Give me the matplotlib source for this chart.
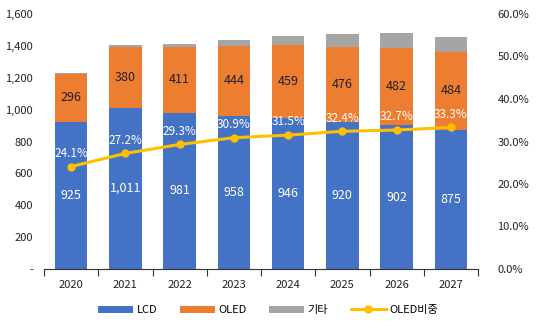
import matplotlib
matplotlib.use("Agg")
import matplotlib.pyplot as plt
from matplotlib.ticker import FuncFormatter, FixedLocator
import numpy as np

plt.rcParams['font.family'] = ['Noto Sans CJK KR', 'DejaVu Sans']

years = ['2020', '2021', '2022', '2023', '2024', '2025', '2026', '2027']
lcd = [925, 1011, 981, 958, 946, 920, 902, 875]
oled = [296, 380, 411, 444, 459, 476, 482, 484]
etc = [6, 14, 21, 35, 57, 80, 97, 96]
oled_share = [24.1, 27.2, 29.3, 30.9, 31.5, 32.4, 32.7, 33.3]

c_lcd = '#4472C4'
c_oled = '#ED7D31'
c_etc = '#A5A5A5'
c_line = '#FFC000'

fig = plt.figure(figsize=(5.36, 3.30), dpi=100)
ax = fig.add_axes([44/536, 1 - 269/330, (478-44)/536, (269-14)/330])
ax2 = ax.twinx()

x = np.arange(len(years))
w = 0.6
lcd_a = np.array(lcd)
oled_a = np.array(oled)
etc_a = np.array(etc)
ax.bar(x, lcd_a, w, color=c_lcd, label='LCD', zorder=2)
ax.bar(x, oled_a, w, bottom=lcd_a, color=c_oled, label='OLED', zorder=2)
ax.bar(x, etc_a, w, bottom=lcd_a + oled_a, color=c_etc, label='기타', zorder=2)

for i in range(len(years)):
    ax.text(x[i], lcd_a[i] / 2, f'{lcd_a[i]:,}', ha='center', va='center',
            color='white', fontsize=9, zorder=5)
    ax.text(x[i], lcd_a[i] + oled_a[i] / 2, f'{oled_a[i]:,}', ha='center',
            va='center', color='#222222', fontsize=9, zorder=5)

ax.set_xlim(-0.5, len(years) - 0.5)
ax.set_ylim(0, 1600)
ax.yaxis.set_major_locator(FixedLocator(np.arange(0, 1601, 200)))
ax.yaxis.set_major_formatter(FuncFormatter(lambda v, p: '-' if v == 0 else f'{int(v):,}'))
ax.set_xticks(x)
ax.set_xticklabels(years)
ax.xaxis.set_minor_locator(FixedLocator(np.arange(-0.5, len(years), 1.0)))
ax.tick_params(axis='x', which='major', length=0, pad=8, labelsize=8, colors='#222222')
ax.tick_params(axis='x', which='minor', length=5, width=0.8, color='#333333')
ax.tick_params(axis='y', length=0, labelsize=8, colors='#222222', pad=8)
for s in ['top', 'right', 'left']:
    ax.spines[s].set_visible(False)
ax.spines['bottom'].set_color('#333333')
ax.spines['bottom'].set_linewidth(0.8)

share = np.array(oled_share)
ax2.plot(x, share, color=c_line, lw=2.2, marker='o', ms=5, label='OLED비중', zorder=4)
for i in range(len(years)):
    ax2.annotate(f'{share[i]:.1f}%', (x[i], share[i]), xytext=(0, 9.5),
                 textcoords='offset points', ha='center', va='center',
                 color='white', fontsize=8.5, zorder=6)
ax2.set_ylim(0, 60)
ax2.yaxis.set_major_locator(FixedLocator(np.arange(0, 61, 10)))
ax2.yaxis.set_major_formatter(FuncFormatter(lambda v, p: f'{v:.1f}%'))
ax2.tick_params(axis='y', length=0, labelsize=8, colors='#222222', pad=14)
for s in ['top', 'right', 'left', 'bottom']:
    ax2.spines[s].set_visible(False)
ax.set_zorder(1)
ax2.set_zorder(2)
ax2.patch.set_visible(False)

h1, l1 = ax.get_legend_handles_labels()
h2, l2 = ax2.get_legend_handles_labels()
fig.legend(h1 + h2, l1 + l2, loc='center', bbox_to_anchor=(0.5, 1 - 310/330),
           ncol=4, frameon=False, fontsize=8, handlelength=3.2, handleheight=0.6,
           columnspacing=2.0, handletextpad=0.3)

fig.savefig('out.png', dpi=100)
